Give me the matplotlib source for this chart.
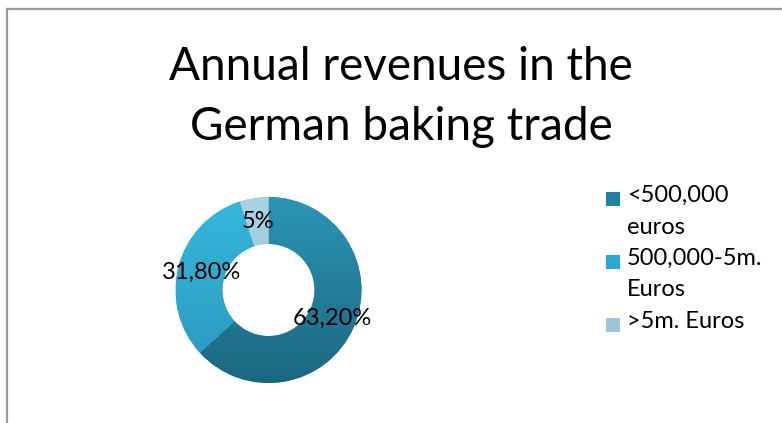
import matplotlib
matplotlib.use("Agg")
import matplotlib.pyplot as plt
from matplotlib.lines import Line2D
from matplotlib.patches import Rectangle
from matplotlib import font_manager
from matplotlib.colors import to_rgb
import numpy as np

# ---- data ----
categories = ["<500,000\neuros", "500,000-5m.\nEuros", ">5m. Euros"]
values = [63.2, 31.8, 5.0]
pct_labels = ["63,20%", "31,80%", "5%"]
title = "Annual revenues in the\nGerman baking trade"

colors_top = ["#2b95b6", "#35b8de", "#a9d4e3"]
colors_bot = ["#1c6780", "#2b98bb", "#8fbccc"]
legend_colors = ["#23809f", "#2aa8ce", "#9ac7d7"]

avail = {f.name for f in font_manager.fontManager.ttflist}
NARROW = "Liberation Sans Narrow" in avail
FONT = "Liberation Sans Narrow" if NARROW else "Lato"
TITLE_SIZE = 36 if NARROW else 33
TXT_SIZE = 17.5 if NARROW else 17

W, H = 782, 423
fig = plt.figure(figsize=(W / 100, H / 100), dpi=100)
fig.patch.set_facecolor("white")

def fx(px):
    return px / W

def fy(py):
    return 1 - py / H

# border (top and left visible)
fig.add_artist(Line2D([fx(7), fx(7)], [fy(9), fy(423)], color="#9a9a9a", lw=1.6,
                      transform=fig.transFigure))
fig.add_artist(Line2D([fx(7), fx(782)], [fy(9), fy(9)], color="#9a9a9a", lw=1.6,
                      transform=fig.transFigure))

# title (two lines, baselines ~80 and ~140 px)
for i, ln in enumerate(title.split("\n")):
    fig.text(fx(401), fy(80 + 60 * i), ln, ha="center", va="baseline",
             fontsize=TITLE_SIZE, family=FONT, color="black")

# donut
cx, cy, R = 268.5, 290, 93
ax = fig.add_axes([fx(cx - R), fy(cy + R), fx(2 * R), (2 * R) / H])
wedges, texts = ax.pie(values, startangle=90, counterclock=False,
                       colors=colors_top, labels=pct_labels, labeldistance=0.75,
                       wedgeprops=dict(width=0.505, edgecolor="none"),
                       textprops=dict(fontsize=TXT_SIZE, family=FONT, color="black"))
for t in texts:
    t.set_ha("center")
    t.set_va("center")
    t.set_zorder(5)
ax.set_xlim(-1, 1)
ax.set_ylim(-1, 1)
ax.set_aspect("equal")
ax.axis("off")

# vertical gradient for each wedge
grad = np.linspace(0, 1, 256)[:, None]
for w, ct, cb in zip(wedges, colors_top, colors_bot):
    ct_, cb_ = np.array(to_rgb(ct)), np.array(to_rgb(cb))
    img = ct_[None, None, :] * (1 - grad[:, :, None]) + cb_[None, None, :] * grad[:, :, None]
    img = np.repeat(img, 2, axis=1)
    im = ax.imshow(img, extent=[-1, 1, -1, 1], origin="upper", zorder=1.5,
                   aspect="auto")
    im.set_clip_path(w)

# legend (manual)
leg_x_sq, leg_x_txt = 606, 627
baseline = 202
line_h = 31.5
for lab, col in zip(categories, legend_colors):
    fig.add_artist(Rectangle((fx(leg_x_sq), fy(baseline + 4)), fx(14), 14 / H,
                             transform=fig.transFigure, facecolor=col,
                             edgecolor="none"))
    lines = lab.split("\n")
    for i, ln in enumerate(lines):
        fig.text(fx(leg_x_txt), fy(baseline + i * line_h), ln, ha="left",
                 va="baseline", fontsize=TXT_SIZE, family=FONT, color="black")
    baseline += line_h * len(lines)

fig.savefig("out.png", dpi=100, facecolor="white")
